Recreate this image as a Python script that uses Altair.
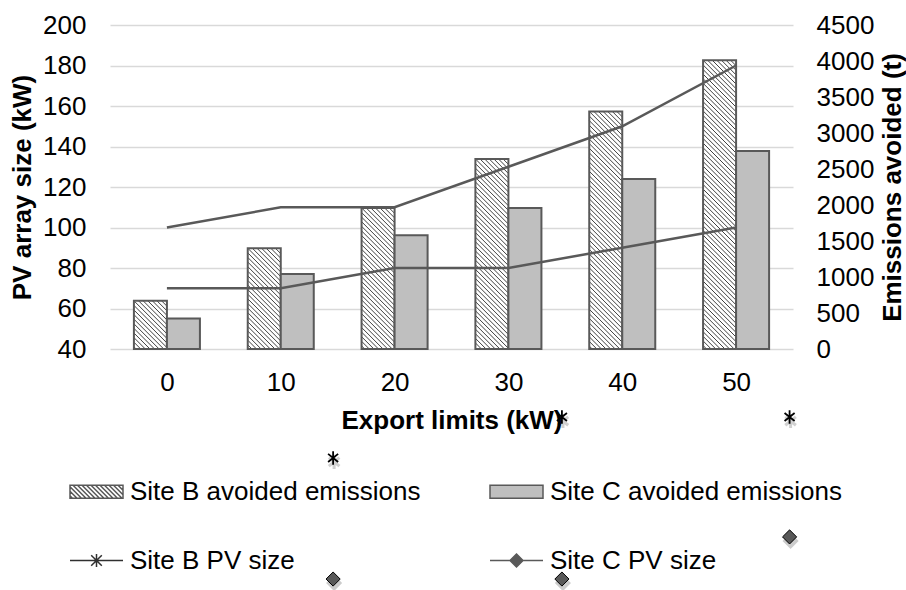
import altair as alt
import pandas as pd

# ---------------- data ----------------
export_limits = [0, 10, 20, 30, 40, 50]
site_b_emissions = [670, 1400, 1960, 2640, 3300, 4010]
site_c_emissions = [425, 1040, 1580, 1960, 2360, 2750]
site_b_pv = [100, 110, 110, 130, 150, 180]
site_c_pv = [70, 70, 80, 80, 90, 100]

# stray markers drawn below the plot area in the reference
stray_star_x = [14.6, 34.7, 54.7]
stray_star_y = [-13.8, 6.4, 6.4]
stray_diamond_x = [14.6, 34.7, 54.7]
stray_diamond_y = [-73.6, -73.6, -52.8]

series_names = ["Site B avoided emissions", "Site B PV size",
                "Site C avoided emissions", "Site C PV size"]
left_ticks = list(range(40, 201, 20))
right_ticks = list(range(0, 4501, 500))
x_ticks = [0, 10, 20, 30, 40, 50]

# ---------------- layout / style ----------------
W, H = 683, 324
X_DOMAIN = [-5, 55]
PX_PER_KW = W / (X_DOMAIN[1] - X_DOMAIN[0])
T_PER_PX = 4500 / H
BAR_KW = 2.9
BAR_PX = BAR_KW * PX_PER_KW
HATCH_SP = 4.6
FONT = "Liberation Sans"
DARK = "#595959"
GRAY_FILL = "#bfbfbf"

emis = pd.DataFrame({"limit": export_limits, "b": site_b_emissions, "c": site_c_emissions})
pv = pd.DataFrame({"limit": export_limits, "b": site_b_pv, "c": site_c_pv})
stars = pd.DataFrame({"x": stray_star_x, "y": stray_star_y})
diamonds = pd.DataFrame({"x": stray_diamond_x, "y": stray_diamond_y})
legend_df = pd.DataFrame({"series": series_names})

x_scale = alt.Scale(domain=X_DOMAIN, nice=False, zero=False)
yR_scale = alt.Scale(domain=[0, 4500], nice=False, zero=False)
yL_scale = alt.Scale(domain=[40, 200], nice=False, zero=False)

x_axis = alt.Axis(title="Export limits (kW)", values=x_ticks, format="d", grid=False,
                  domain=False, ticks=False, labelPadding=20, titleY=71,
                  titleBaseline="middle")
yR_axis = alt.Axis(title="Emissions avoided (t)", orient="right", values=right_ticks,
                   format="d", grid=False, domain=False, ticks=False, labelPadding=23,
                   titleAngle=270, titleX=99, titleY=H / 2, titleAlign="center",
                   titleBaseline="middle")
yL_axis = alt.Axis(title="PV array size (kW)", orient="left", values=left_ticks,
                   format="d", grid=True, gridColor="#d9d9d9", gridWidth=1.5,
                   domain=False, ticks=False, labelPadding=24, titleAngle=270,
                   titleX=-88, titleY=H / 2, titleAlign="center",
                   titleBaseline="middle")

X = lambda f: alt.X(f, scale=x_scale, axis=x_axis)
YR = lambda f: alt.Y(f, scale=yR_scale, axis=yR_axis)
YL = lambda f: alt.Y(f, scale=yL_scale, axis=yL_axis)

bars_base = alt.Chart(emis).transform_calculate(
    bx0=f"datum.limit - {BAR_KW}", bx1="datum.limit",
    cx1=f"datum.limit + {BAR_KW}", zero="0"
)

b_fill = bars_base.mark_bar(fill="white", strokeWidth=0).encode(
    x=X("bx0:Q"), x2="bx1:Q", y=YR("b:Q"), y2="zero:Q")

hatch = alt.Chart(emis).transform_calculate(
    h=f"datum.b / {T_PER_PX}"
).transform_calculate(
    cs=f"sequence(-floor(datum.h / {HATCH_SP}) * {HATCH_SP}, {BAR_PX}, {HATCH_SP})"
).transform_flatten(["cs"], as_=["c"]).transform_calculate(
    u0="max(datum.c, 0)", s0="max(-datum.c, 0)",
    u1=f"min(datum.c + datum.h, {BAR_PX})"
).transform_calculate(
    s1="datum.u1 - datum.c",
    hx0=f"datum.limit - {BAR_KW} + datum.u0 / {PX_PER_KW}",
    hx1=f"datum.limit - {BAR_KW} + datum.u1 / {PX_PER_KW}",
).transform_calculate(
    hy0=f"datum.b - datum.s0 * {T_PER_PX}",
    hy1=f"datum.b - datum.s1 * {T_PER_PX}",
).transform_filter("datum.u1 - datum.u0 > 0.3").mark_rule(
    color="#404040", strokeWidth=1.0
).encode(x=X("hx0:Q"), x2="hx1:Q", y=YR("hy0:Q"), y2="hy1:Q")

b_outline = bars_base.mark_bar(fillOpacity=0, stroke=DARK, strokeWidth=2).encode(
    x=X("bx0:Q"), x2="bx1:Q", y=YR("b:Q"), y2="zero:Q")

c_bar = bars_base.mark_bar(fill=GRAY_FILL, stroke=DARK, strokeWidth=2).encode(
    x=X("bx1:Q"), x2="cx1:Q", y=YR("c:Q"), y2="zero:Q")

bars_group = alt.layer(b_fill, hatch, b_outline, c_bar)

line_b = alt.Chart(pv).mark_line(color=DARK, strokeWidth=2.5).encode(
    x=X("limit:Q"), y=YL("b:Q"))
line_c = alt.Chart(pv).mark_line(color=DARK, strokeWidth=2.5).encode(
    x=X("limit:Q"), y=YL("c:Q"))

STAR = "M0,-1L0,1M-0.75,-0.6L0.75,0.6M-0.75,0.6L0.75,-0.6"
star_shadow = alt.Chart(stars).mark_point(
    shape=STAR, size=200, stroke="#000", strokeWidth=3, opacity=0.18, filled=False,
    yOffset=4, xOffset=1).encode(x=X("x:Q"), y=YL("y:Q"))
star_pts = alt.Chart(stars).mark_point(
    shape=STAR, size=180, stroke="#000", strokeWidth=1.8, filled=False, opacity=1
).encode(x=X("x:Q"), y=YL("y:Q"))
dia_shadow = alt.Chart(diamonds).mark_point(
    shape="diamond", size=260, fill="#000", filled=True, opacity=0.2, yOffset=4,
    xOffset=1).encode(x=X("x:Q"), y=YL("y:Q"))
dia_pts = alt.Chart(diamonds).mark_point(
    shape="diamond", size=200, fill=DARK, stroke="#000", strokeWidth=1, filled=True,
    opacity=1).encode(x=X("x:Q"), y=YL("y:Q"))

lines_group = alt.layer(line_b, line_c, star_shadow, star_pts, dia_shadow, dia_pts)

# ---------------- legend symbols (unit-square SVG paths) ----------------
SYM = 53.0
half = SYM / 2
rh = 6.5 / half


def hatched_rect():
    parts = [f"M-1,{-rh:.3f}H1V{rh:.3f}H-1Z"]
    h_px, w_px = 13.0, SYM
    c = -h_px + 2.5
    while c < w_px:
        u0, s0 = max(c, 0), max(-c, 0)
        u1 = min(c + h_px, w_px)
        s1 = u1 - c
        if u1 - u0 > 0.5:
            parts.append(f"M{u0 / half - 1:.3f},{s0 / half - rh:.3f}"
                         f"L{u1 / half - 1:.3f},{s1 / half - rh:.3f}")
        c += 4.5
    return "".join(parts)


p_rect = f"M-1,{-rh:.3f}H1V{rh:.3f}H-1Z"
p_star = "M-1,0H1M0,-0.245V0.245M-0.2,-0.2L0.2,0.2M-0.2,0.2L0.2,-0.2"
p_dia = "M-1,0H-0.245M0.245,0H1M0,-0.245L0.245,0L0,0.245L-0.245,0Z"

leg = alt.Legend(title=None, orient="none", legendX=-41, legendY=439, columns=2,
                 columnPadding=66, rowPadding=28, symbolSize=SYM * SYM,
                 symbolStrokeWidth=1.5, symbolOpacity=1, labelFont=FONT,
                 labelFontSize=26, labelColor="#000", labelOffset=6,
                 labelLimit=500, padding=0)

legend_layer = alt.Chart(legend_df).transform_filter("false").mark_point(
    filled=True, opacity=1).encode(
    shape=alt.Shape("series:N", scale=alt.Scale(domain=series_names,
                    range=[hatched_rect(), p_star, p_rect, p_dia]), legend=leg),
    fill=alt.Fill("series:N", scale=alt.Scale(domain=series_names,
                  range=["#ffffff", "transparent", GRAY_FILL, DARK]), legend=leg),
    stroke=alt.Stroke("series:N", scale=alt.Scale(domain=series_names,
                      range=[DARK, "#303030", DARK, DARK]), legend=leg),
)

chart = alt.layer(bars_group, lines_group, legend_layer).resolve_scale(
    y="independent"
).properties(
    width=W, height=H,
    autosize=alt.AutoSizeParams(type="none"),
    padding={"left": 110, "top": 25, "right": 113, "bottom": 241},
    background="white",
).configure_view(stroke=None).configure_axis(
    labelFont=FONT, labelFontSize=26, labelColor="#000",
    titleFont=FONT, titleFontSize=26, titleFontWeight="bold", titleColor="#000",
).configure_legend(labelFont=FONT)

chart.save("out.html", embed_options={"renderer": "svg", "actions": False})
